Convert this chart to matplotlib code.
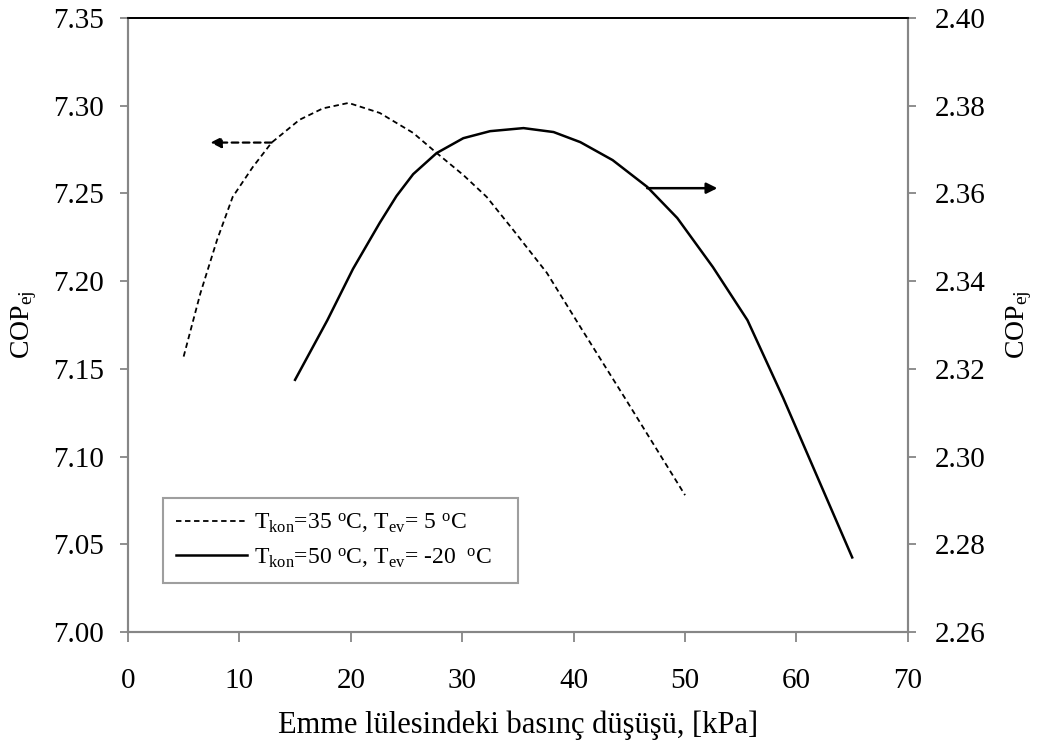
import matplotlib
matplotlib.use("Agg")
import matplotlib.pyplot as plt
import numpy as np
from matplotlib.lines import Line2D

plt.rcParams['font.family'] = ['Liberation Serif', 'DejaVu Serif']
plt.rcParams['mathtext.fontset'] = 'custom'
plt.rcParams['mathtext.rm'] = 'Liberation Serif'
plt.rcParams['mathtext.it'] = 'Liberation Serif:italic'

# T_kon = 35 C, T_ev = 5 C  (left axis)
dp_35 = [5, 6.5, 8, 9.4, 11.2, 12.9, 15.4, 17.5, 19.8, 22.6, 25.6, 27.7, 30.1,
         32.2, 34.6, 37.6, 40.6, 44.6, 50]
cop_35 = [7.157, 7.193, 7.2235, 7.248, 7.265, 7.279, 7.292, 7.2985, 7.3016, 7.2959,
          7.2845, 7.2731, 7.2605, 7.248, 7.229, 7.2047, 7.1739, 7.1334, 7.078]

# T_kon = 50 C, T_ev = -20 C  (right axis)
dp_50 = [15, 17.9, 20.2, 22.6, 24.1, 25.6, 27.7, 30.1, 32.5, 35.5, 38.2, 40.6,
         43.5, 46.6, 49.3, 52.5, 55.6, 58.8, 65]
cop_50 = [2.3175, 2.3311, 2.3428, 2.3533, 2.3594, 2.3644, 2.3692, 2.3726, 2.3742,
          2.3749, 2.3740, 2.3717, 2.3676, 2.3615, 2.3544, 2.3432, 2.3311, 2.3134, 2.277]

label_35 = r'T$_{\mathrm{kon}}$=35 $^{\mathrm{o}}$C, T$_{\mathrm{ev}}$= 5 $^{\mathrm{o}}$C'
label_50 = r'T$_{\mathrm{kon}}$=50 $^{\mathrm{o}}$C, T$_{\mathrm{ev}}$= -20  $^{\mathrm{o}}$C'

gray = '#868686'

fig = plt.figure(figsize=(10.4, 7.45), dpi=100)
ax = fig.add_axes([0.123, 0.1517, 0.75, 0.8241])
ax2 = ax.twinx()

ax.plot(dp_35, cop_35, color='black', lw=1.3, ls=(0, (3, 2)))
ax2.plot(dp_50, cop_50, color='black', lw=1.8)

# direction arrows
ax.annotate('', xy=(7.4, 7.279), xytext=(12.9, 7.279),
            arrowprops=dict(arrowstyle='-|>', color='black', lw=1.6, ls=(0, (3, 2)),
                            mutation_scale=16, shrinkA=0, shrinkB=0))
ax2.annotate('', xy=(52.9, 2.3612), xytext=(46.6, 2.3612),
             arrowprops=dict(arrowstyle='-|>', color='black', lw=1.8,
                             mutation_scale=16, shrinkA=0, shrinkB=0))

ax.set_xlim(0, 70)
ax.set_ylim(7.00, 7.35)
ax2.set_ylim(2.26, 2.40)
left_ticks = np.arange(7.00, 7.351, 0.05)
right_ticks = np.arange(2.26, 2.401, 0.02)
ax.set_xticks(np.arange(0, 71, 10))
ax.set_yticks(left_ticks)
ax2.set_yticks(right_ticks)
ax.set_yticklabels(['%.2f' % v for v in left_ticks])
ax2.set_yticklabels(['%.2f' % v for v in right_ticks])

for a in (ax, ax2):
    for side in ('left', 'right', 'bottom'):
        a.spines[side].set_color(gray)
        a.spines[side].set_linewidth(1.5)
    a.spines['top'].set_color('black')
    a.spines['top'].set_linewidth(1.3)

ax.tick_params(axis='y', direction='out', length=6, width=1.3, color=gray,
               labelsize=21, pad=11)
ax.tick_params(axis='x', direction='out', length=7, width=1.3, color=gray,
               labelsize=21, pad=19)
ax2.tick_params(axis='y', direction='out', length=6, width=1.3, color=gray,
                labelsize=21, pad=13)

ax.set_xlabel('Emme lülesindeki basınç düşüşü, [kPa]', fontsize=22, labelpad=12)
ax.set_ylabel(r'COP$_{\mathrm{ej}}$', fontsize=20, labelpad=10)
ax2.set_ylabel(r'COP$_{\mathrm{ej}}$', fontsize=20, labelpad=14, rotation=90)

handles = [Line2D([], [], color='black', lw=1.3, ls=(0, (3, 2))),
           Line2D([], [], color='black', lw=1.8)]
leg = ax2.legend(handles, [label_35, label_50], loc='lower left',
                 bbox_to_anchor=(0.045, 0.08, 0.455, 0.1545), mode='expand',
                 fontsize=17, frameon=True, fancybox=False, handlelength=3.0,
                 handletextpad=0.3, borderpad=0.55, labelspacing=0.45,
                 borderaxespad=0)
leg.get_frame().set_edgecolor(gray)
leg.get_frame().set_linewidth(1.5)

fig.savefig('out.png', dpi=100)
